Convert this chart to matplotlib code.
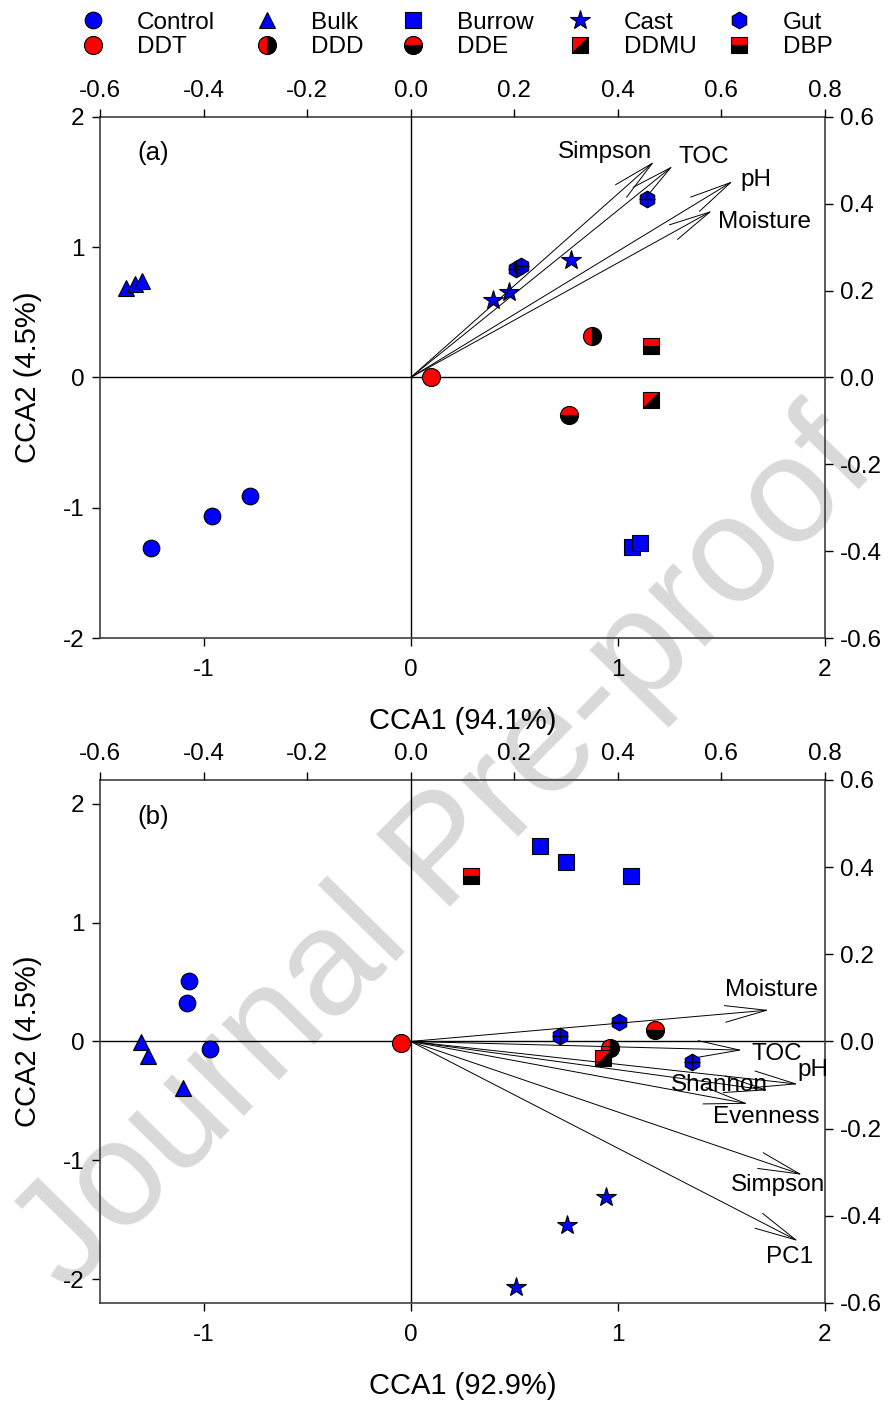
import matplotlib
matplotlib.use("Agg")
import matplotlib.pyplot as plt
from matplotlib.lines import Line2D
from matplotlib.markers import MarkerStyle
from matplotlib.transforms import Affine2D

plt.rcParams['font.family'] = ['Liberation Sans', 'DejaVu Sans']
plt.rcParams['axes.unicode_minus'] = False

# ---- data: sample scores (CCA1, CCA2) ----
groups = ['Control', 'Bulk', 'Burrow', 'Cast', 'Gut',
          'DDT', 'DDD', 'DDE', 'DDMU', 'DBP']

# panel (a)
a_x = {'Control': [-1.256, -0.961, -0.778],
       'Bulk': [-1.372, -1.333, -1.295],
       'Burrow': [1.068, 1.106],
       'Cast': [0.396, 0.473, 0.773],
       'Gut': [0.507, 0.531, 1.140],
       'DDT': [0.10], 'DDD': [0.874], 'DDE': [0.763],
       'DDMU': [1.159], 'DBP': [1.159]}
a_y = {'Control': [-1.31, -1.062, -0.908],
       'Bulk': [0.685, 0.715, 0.740],
       'Burrow': [-1.30, -1.27],
       'Cast': [0.592, 0.654, 0.90],
       'Gut': [0.83, 0.854, 1.37],
       'DDT': [0.0], 'DDD': [0.315], 'DDE': [-0.285],
       'DDMU': [-0.17], 'DBP': [0.24]}

# panel (b)
b_x = {'Control': [-1.068, -1.082, -0.971],
       'Bulk': [-1.300, -1.266, -1.101],
       'Burrow': [0.623, 0.749, 1.063],
       'Cast': [0.942, 0.754, 0.507],
       'Gut': [0.720, 1.005, 1.357],
       'DDT': [-0.048], 'DDD': [0.961], 'DDE': [1.179],
       'DDMU': [0.928], 'DBP': [0.290]}
b_y = {'Control': [0.51, 0.324, -0.063],
       'Bulk': [-0.004, -0.122, -0.39],
       'Burrow': [1.646, 1.512, 1.394],
       'Cast': [-1.31, -1.545, -2.067],
       'Gut': [0.046, 0.164, -0.173],
       'DDT': [-0.013], 'DDD': [-0.055], 'DDE': [0.097],
       'DDMU': [-0.139], 'DBP': [1.394]}

# environmental vectors (secondary scale)
a_vec_names = ['Simpson', 'TOC', 'pH', 'Moisture']
a_vec_x = [0.470, 0.506, 0.622, 0.582]
a_vec_y = [0.497, 0.487, 0.452, 0.384]

b_vec_names = ['Moisture', 'TOC', 'pH', 'Shannon', 'Evenness', 'Simpson', 'PC1']
b_vec_x = [0.692, 0.640, 0.748, 0.690, 0.651, 0.756, 0.748]
b_vec_y = [0.072, -0.020, -0.098, -0.112, -0.143, -0.306, -0.458]

a_xlabel = 'CCA1 (94.1%)'
b_xlabel = 'CCA1 (92.9%)'
ylabel = 'CCA2 (4.5%)'

# ---- styles ----
BLUE = '#0000ff'
RED = '#ff0000'
ddmu_marker = MarkerStyle('D', fillstyle='top', transform=Affine2D().rotate_deg(45))

styles = {
    'Control': dict(marker='o', mfc=BLUE, ms=12),
    'Bulk': dict(marker='^', mfc=BLUE, ms=12),
    'Burrow': dict(marker='s', mfc=BLUE, ms=11),
    'Cast': dict(marker='*', mfc=BLUE, ms=15),
    'Gut': dict(marker='h', mfc=BLUE, ms=12),
    'DDT': dict(marker='o', mfc=RED, ms=13),
    'DDD': dict(marker='o', mfc=RED, mfcalt='black', fillstyle='left', ms=13),
    'DDE': dict(marker='o', mfc=RED, mfcalt='black', fillstyle='top', ms=13),
    'DDMU': dict(marker=ddmu_marker, mfc=RED, mfcalt='black', ms=11),
    'DBP': dict(marker='s', mfc=RED, mfcalt='black', fillstyle='top', ms=11),
}

FS_TICK = 17.5
FS_LABEL = 21
FS_TEXT = 17.5


def draw_points(ax, xs, ys):
    for g in groups:
        st = styles[g]
        ax.plot(xs[g], ys[g], linestyle='none', mec='black', mew=0.8,
                zorder=4, **st)
        if g == 'Gut':
            ax.plot(xs[g], ys[g], linestyle='none', marker='+', color='black',
                    ms=11, mew=1.0, zorder=5)


def draw_vectors(ax2, names, vx, vy, label_pos):
    for n, x, y, (lx, ly) in zip(names, vx, vy, label_pos):
        ax2.annotate('', xy=(x, y), xytext=(0, 0),
                     arrowprops=dict(arrowstyle='->,head_length=1.5,head_width=0.3',
                                     lw=0.7, color='black', shrinkA=0, shrinkB=0,
                                     mutation_scale=20), zorder=3)
        ax2.text(lx, ly, n, fontsize=FS_TEXT, ha='center', va='center', zorder=6)


def setup_axes(fig, rect, ylim, ylim2, xlabel, tag):
    ax = fig.add_axes(rect, facecolor='none')
    ax.set_xlim(-1.5, 2)
    ax.set_ylim(*ylim)
    ax.set_xticks([-1, 0, 1, 2])
    ax.set_yticks([-2, -1, 0, 1, 2])
    ax.tick_params(direction='out', length=6, width=1, labelsize=FS_TICK,
                   top=False, right=False)
    ax.tick_params(axis='x', pad=9)
    ax.tick_params(axis='y', pad=5)
    for s in ax.spines.values():
        s.set_color('#404040')
        s.set_linewidth(1.2)
    ax.axhline(0, color='black', lw=1, zorder=1)
    ax.axvline(0, color='black', lw=1, zorder=1)
    ax.set_xlabel(xlabel, fontsize=FS_LABEL, labelpad=19)
    ax.set_ylabel(ylabel, fontsize=FS_LABEL, labelpad=15)
    ax.text(0.052, 0.93, tag, transform=ax.transAxes, fontsize=FS_TEXT + 1,
            ha='left', va='center')

    ax2 = fig.add_axes(rect, facecolor='none')
    ax2.set_xlim(-0.6, 0.8)
    ax2.set_ylim(-ylim2, ylim2)
    ax2.set_xticks([-0.6, -0.4, -0.2, 0.0, 0.2, 0.4, 0.6, 0.8])
    ax2.set_yticks([-0.6, -0.4, -0.2, 0.0, 0.2, 0.4, 0.6])
    ax2.xaxis.set_major_formatter('{x:.1f}')
    ax2.yaxis.set_major_formatter('{x:.1f}')
    ax2.xaxis.tick_top()
    ax2.yaxis.tick_right()
    ax2.tick_params(direction='out', length=6, width=1, labelsize=FS_TICK, pad=5)
    for s in ax2.spines.values():
        s.set_visible(False)
    return ax, ax2


fig = plt.figure(figsize=(8.91, 14.01), dpi=100)

# watermark
fig.text(0.50, 0.39, 'Journal Pre-proof', rotation=45.5, fontsize=108,
         color='#d9d9d9', ha='center', va='center', zorder=-1)

ax_a, ax_a2 = setup_axes(fig, [0.1122, 0.5446, 0.8137, 0.3719], (-2, 2), 0.6,
                         a_xlabel, '(a)')
draw_points(ax_a, a_x, a_y)
draw_vectors(ax_a2, a_vec_names, a_vec_x, a_vec_y,
             [(0.375, 0.52), (0.566, 0.508), (0.667, 0.455), (0.684, 0.359)])

ax_b, ax_b2 = setup_axes(fig, [0.1122, 0.0700, 0.8137, 0.3733], (-2.2, 2.2), 0.6,
                         b_xlabel, '(b)')
draw_points(ax_b, b_x, b_y)
draw_vectors(ax_b2, b_vec_names, b_vec_x, b_vec_y,
             [(0.696, 0.118), (0.707, -0.029), (0.777, -0.065), (0.597, -0.100),
              (0.686, -0.173), (0.709, -0.329), (0.732, -0.494)])

# legend: one small legend per column, two rows each
legend_cols = [('Control', 'DDT'), ('Bulk', 'DDD'), ('Burrow', 'DDE'),
               ('Cast', 'DDMU'), ('Gut', 'DBP')]
col_px = [93, 267, 413, 580, 739]
for names, px in zip(legend_cols, col_px):
    hs = [Line2D([], [], linestyle='none', mec='black', mew=0.8, **styles[g])
          for g in names]
    leg = fig.legend(hs, names, loc='center left',
                     bbox_to_anchor=((px - 12) / 891, 1 - 35 / 1401),
                     frameon=False, fontsize=FS_TEXT, handlelength=1.0,
                     handletextpad=1.3, labelspacing=0.12, borderpad=0,
                     borderaxespad=0)

fig.savefig('out.png', dpi=100)
